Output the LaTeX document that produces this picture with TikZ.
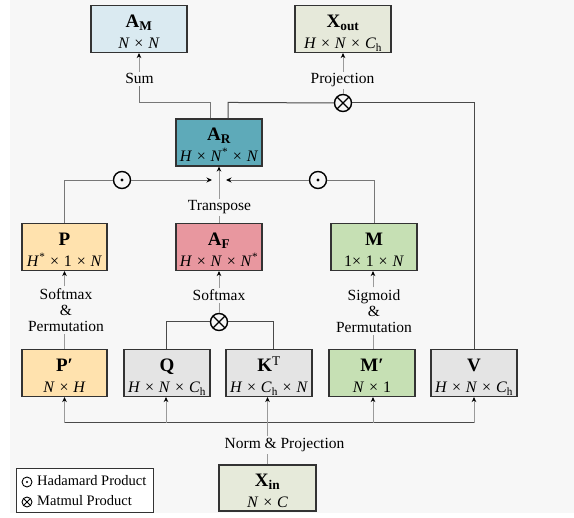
\documentclass[tikz,border=0pt]{standalone}
\usepackage{fontspec}
\setmainfont{Liberation Serif}
\usetikzlibrary{arrows.meta,calc}
\definecolor{bgc}{HTML}{F7F7F7}
\definecolor{boxb}{HTML}{333333}
\definecolor{amc}{HTML}{DAEAF1}
\definecolor{xoutc}{HTML}{E6E9DA}
\definecolor{arc}{HTML}{5EAAB9}
\definecolor{pc}{HTML}{FFE2AE}
\definecolor{afc}{HTML}{E8979F}
\definecolor{mc}{HTML}{C6E0B4}
\definecolor{gc}{HTML}{E4E4E4}
\definecolor{xinc}{HTML}{E6EADA}
\definecolor{lgray}{HTML}{9A9A9A}
\definecolor{mgray}{HTML}{777777}
\definecolor{dgray}{HTML}{4A4A4A}
\newcommand\tms{\hspace{0.3em}×\hspace{0.3em}}
\newcommand\iv[1]{\textit{#1}}
\newcommand\ch{\iv{C}\textsubscript{h}}
\begin{document}
\begin{tikzpicture}[x=1pt,y=-1pt,
  box/.style={draw=boxb, line width=1.1pt, minimum width=86pt, minimum height=47pt, inner sep=0pt},
  ttl/.style={font=\fontsize{19}{21}\selectfont\bfseries, anchor=base, inner sep=0pt},
  dimt/.style={font=\fontsize{16}{18}\selectfont, anchor=base, inner sep=0pt},
  lbl/.style={font=\fontsize{15.5}{17}\selectfont, inner sep=2pt, anchor=base},
  mlbl/.style={font=\fontsize{15.5}{16}\selectfont, inner sep=2pt, align=center},
  gline/.style={draw=lgray, line width=0.9pt},
  oline/.style={draw=mgray, line width=0.9pt},
  dline/.style={draw=dgray, line width=1pt},
  arr/.style={gline, -{Stealth[length=5pt,width=4.5pt,inset=1.5pt,color=black]}},
  oarr/.style={oline, -{Stealth[length=5.5pt,width=5pt,inset=1.8pt,color=black]}},
  opn/.style={circle, draw=black, line width=1.4pt, minimum size=17pt, inner sep=0pt, fill=bgc},
  odotn/.style={opn, path picture={\fill[black] (path picture bounding box.center) circle (1.7pt);}},
  otimesn/.style={opn, path picture={
     \draw[line width=1.3pt] (path picture bounding box.north west) -- (path picture bounding box.south east);
     \draw[line width=1.3pt] (path picture bounding box.north east) -- (path picture bounding box.south west);}},
  lodot/.style={circle, draw=black, line width=0.9pt, minimum size=10pt, inner sep=0pt,
     path picture={\fill[black] (path picture bounding box.center) circle (1.1pt);}},
  lotimes/.style={circle, draw=black, line width=0.9pt, minimum size=10pt, inner sep=0pt,
     path picture={
     \draw[line width=0.8pt] (path picture bounding box.north west) -- (path picture bounding box.south east);
     \draw[line width=0.8pt] (path picture bounding box.north east) -- (path picture bounding box.south west);}}
]
\useasboundingbox (0,0) rectangle (574,518);
\fill[bgc] (10,0) rectangle (574,513);

% ---------- boxes ----------
\node[box, fill=amc, minimum width=96pt] (am) at (139,29) {};
\node[ttl] at ($(am.center)+(0,-1.5)$) {A\textsubscript{M}};
\node[dimt] at ($(am.center)+(0,19.5)$) {\iv{N}\tms\iv{N}};

\node[box, fill=xoutc, minimum width=96pt] (xout) at (343,29) {};
\node[ttl] at ($(xout.center)+(0,-1.5)$) {X\textsubscript{out}};
\node[dimt] at ($(xout.center)+(0,19.5)$) {\iv{H}\tms\iv{N}\tms\ch};

\node[box, fill=arc] (ar) at (219,142.5) {};
\node[ttl] at ($(ar.center)+(0,-1.5)$) {A\textsubscript{R}};
\node[dimt] at ($(ar.center)+(0,19.5)$) {\iv{H}\tms\iv{N}\textsuperscript{*}\tms\iv{N}};

\node[box, fill=pc, minimum width=85pt] (p) at (64.5,247) {};
\node[ttl] at ($(p.center)+(0,-1.5)$) {P};
\node[dimt] at ($(p.center)+(0,19.5)$) {\iv{H}\textsuperscript{*}\tms1\tms\iv{N}};

\node[box, fill=afc] (af) at (219,247) {};
\node[ttl] at ($(af.center)+(0,-1.5)$) {A\textsubscript{F}};
\node[dimt] at ($(af.center)+(0,19.5)$) {\iv{H}\tms\iv{N}\tms\iv{N}\textsuperscript{*}};

\node[box, fill=mc] (m) at (374,247) {};
\node[ttl] at ($(m.center)+(0,-1.5)$) {M};
\node[dimt] at ($(m.center)+(0,19.5)$) {1×\hspace{0.3em}1\tms\iv{N}};

\node[box, fill=pc, minimum width=85pt] (pp) at (64.5,373) {};
\node[ttl] at ($(pp.center)+(0,-1.5)$) {P′};
\node[dimt] at ($(pp.center)+(0,19.5)$) {\iv{N}\tms\iv{H}};

\node[box, fill=gc] (q) at (167,373) {};
\node[ttl] at ($(q.center)+(0,-1.5)$) {Q};
\node[dimt] at ($(q.center)+(0,19.5)$) {\iv{H}\tms\iv{N}\tms\ch};

\node[box, fill=gc] (kt) at (269,373) {};
\node[ttl] at ($(kt.center)+(0,-1.5)$) {K\textsuperscript{\mdseries T}};
\node[dimt] at ($(kt.center)+(0,19.5)$) {\iv{H}\tms\ch\tms\iv{N}};

\node[box, fill=mc] (mp) at (372,373) {};
\node[ttl] at ($(mp.center)+(0,-1.5)$) {M′};
\node[dimt] at ($(mp.center)+(0,19.5)$) {\iv{N}\tms1};

\node[box, fill=gc] (v) at (474,373) {};
\node[ttl] at ($(v.center)+(0,-1.5)$) {V};
\node[dimt] at ($(v.center)+(0,19.5)$) {\iv{H}\tms\iv{N}\tms\ch};

\node[box, fill=xinc, minimum width=97pt, minimum height=46pt] (xin) at (267.5,488) {};
\node[ttl] at ($(xin.center)+(0,-1.5)$) {X\textsubscript{in}};
\node[dimt] at ($(xin.center)+(0,19.5)$) {\iv{N}\tms\iv{C}};

% ---------- labels ----------
\node[lbl] (sumlbl) at (139.5,84) {Sum};
\node[lbl] (projlbl) at (342.5,84) {Projection};
\node[lbl] (trlbl) at (219.5,211) {Transpose};
\node[lbl] (smlbl) at (219,301) {Softmax};
\node[lbl] (nplbl) at (284.5,449) {Norm \& Projection};
\node[mlbl] (sp1) at (66,310) {Softmax\\\&\\Permutation};
\node[mlbl] (sp2) at (374,311) {Sigmoid\\\&\\Permutation};

% ---------- operators ----------
\node[otimesn] (ot1) at (343,103) {};
\node[otimesn] (ot2) at (219,322) {};
\node[odotn] (od1) at (122,180) {};
\node[odotn] (od2) at (318,180) {};
\coordinate (jl) at (212,180);
\coordinate (jr) at (226,180);
\coordinate (busy) at (0,423);
\coordinate (mx) at (373,0);

% ---------- connectors ----------
\draw[oline] ([xshift=-9pt]ar.north) -- ++(0,-16) -| (am.south |- sumlbl.south);
\draw[arr] (am.south |- sumlbl.north) -- (am.south);
\draw[dline] ([xshift=9pt]ar.north) -- ++(0,-16) -- (ot1.west);
\draw[dline] (ot1.east) -| (v.north);
\draw[gline] (ot1.north) -- (ot1.north |- projlbl.south);
\draw[arr] (ot1.north |- projlbl.north) -- (ot1.north |- xout.south);

\draw[oline] (p.north) |- (od1.west);
\draw[oarr] (od1.east) -- (jl);
\draw[oline] (m.north) |- (od2.east);
\draw[oarr] (od2.west) -- (jr);
\draw[gline] (af.north) -- (af.north |- trlbl.south);
\draw[arr] (af.north |- trlbl.north) -- (ar.south);

\draw[gline] (pp.north) -- (pp.north |- sp1.south);
\draw[arr] (pp.north |- sp1.north) -- (p.south);
\draw[gline] (mx |- mp.north) -- (mx |- sp2.south);
\draw[arr] (mx |- sp2.north) -- (mx |- m.south);

\draw[dline] ([xshift=-1pt]q.north) |- (ot2.west);
\draw[dline] ([xshift=4pt]kt.north) |- (ot2.east);
\draw[gline] (ot2.north) -- (ot2.north |- smlbl.south);
\draw[arr] (ot2.north |- smlbl.north) -- (af.south);

\draw[dline] (pp.south |- busy) -- (v.south |- busy);
\draw[arr] (pp.south |- busy) -- (pp.south);
\draw[arr] ([xshift=-1pt]q.south |- busy) -- ([xshift=-1pt]q.south);
\draw[arr] (xin.north |- nplbl.north) -- (xin.north |- kt.south);
\draw[arr] (mx |- busy) -- (mx |- mp.south);
\draw[arr] (v.south |- busy) -- (v.south);
\draw[gline] (xin.north) -- (xin.north |- nplbl.south);

% ---------- legend ----------
\node[draw=boxb, line width=1pt, fill=white, minimum width=137pt, minimum height=44pt, inner sep=0pt] (leg) at (84.5,491) {};
\node[lodot] (lg1) at (27,482) {};
\node[lotimes] (lg2) at (27,502) {};
\node[font=\fontsize{14.5}{16}\selectfont, anchor=base west, inner sep=0pt] (lt1) at (37,486) {Hadamard Product};
\node[font=\fontsize{14.5}{16}\selectfont, anchor=base west, inner sep=0pt] (lt2) at (37,506) {Matmul Product};
\end{tikzpicture}
\end{document}
